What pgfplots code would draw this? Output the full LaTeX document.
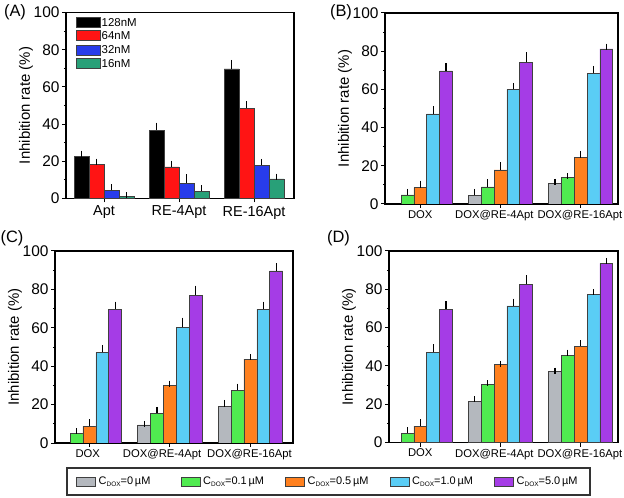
\documentclass[border=0pt]{standalone}
\usepackage{pgfplots}
\pgfplotsset{compat=1.18}
\usepackage{fontspec}
\setmainfont{Liberation Sans}
\setsansfont{Liberation Sans}

\definecolor{cgray}{RGB}{180,184,190}
\definecolor{cgreen}{RGB}{80,235,80}
\definecolor{corange}{RGB}{255,128,30}
\definecolor{ccyan}{RGB}{90,205,245}
\definecolor{cpurple}{RGB}{165,60,230}
\definecolor{ared}{RGB}{255,20,20}
\definecolor{ablue}{RGB}{40,60,235}
\definecolor{ateal}{RGB}{40,160,120}

\newcommand{\fs}[1]{\fontsize{#1}{#1}\selectfont}
\newcommand{\cdox}{C\raisebox{-0.3ex}{\fs{6.5}DOX}}

\pgfplotsset{
  panel/.style={
    scale only axis,
    anchor=south west,
    ybar=0pt,
    ymin=0, ymax=100,
    ytick={0,20,...,100},
    minor y tick num=1,
    tick align=outside,
    major tick length=4bp,
    minor tick length=2bp,
    xtick pos=bottom, ytick pos=left,
    axis line style={line width=1.3bp},
    major tick style={line width=1bp, black},
    minor tick style={line width=0.8bp, black},
    ylabel={Inhibition rate (\%)},
    yticklabel style={font=\fs{15.5}, xshift=1bp},
    ylabel style={font=\fs{15}, yshift=-6bp},
    /pgf/number format/assume math mode=true,
    error bars/y dir=plus,
    error bars/y explicit,
    error bars/error bar style={line width=1.1bp, black},
    error bars/error mark options={line width=1.1bp, black, mark size=3bp},
    every axis plot/.append style={draw=black!75, line width=0.6bp},
  },
  dox/.style={
    xtick={1,2,3},
    xticklabels={},
    extra x ticks={#1},
    extra x tick labels={DOX,DOX@RE-4Apt,DOX@RE-16Apt},
    extra x tick style={major tick length=0pt, xticklabel style={font=\fs{11.3}, yshift=-3bp}},
    bar width=0.16,
  },
}

\begin{document}
\begin{tikzpicture}
\path[use as bounding box] (0,0) rectangle (624bp,498bp);

% (A)
\begin{axis}[panel, at={(66bp,299.5bp)}, width=228bp, height=186bp,
  xmin=0.493, xmax=3.533, xtick={1,2,3},
  xticklabels={Apt,RE-4Apt,RE-16Apt},
  xticklabel style={font=\fs{14.5}},
  bar width=0.2]
\addplot[fill=black] coordinates {(1,22.5) +- (0,1.6) (2,36.8) +- (0,2.4) (3,69.7) +- (0,3.2)};
\addplot[fill=ared] coordinates {(1,18.2) +- (0,1.6) (2,17.0) +- (0,1.8) (3,48.6) +- (0,2.2)};
\addplot[fill=ablue] coordinates {(1,4.3) +- (0,1.8) (2,8.2) +- (0,3.2) (3,17.8) +- (0,1.9)};
\addplot[fill=ateal] coordinates {(1,1.1) +- (0,0.6) (2,4.0) +- (0,1.6) (3,10.5) +- (0,1.2)};
\end{axis}

% (B)
\begin{axis}[panel, dox={1,1.923,2.99}, at={(385bp,294bp)}, width=233bp, height=191bp,
  xmin=0.56, xmax=3.465]
\addplot[fill=cgray] coordinates {(2,4.5) +- (0,1.9) (3,10.6) +- (0,1.0)};
\addplot[fill=cgreen] coordinates {(1,4.8) +- (0,1.5) (2,8.9) +- (0,2.4) (3,13.9) +- (0,0.7)};
\addplot[fill=corange] coordinates {(1,8.6) +- (0,2.0) (2,17.9) +- (0,2.4) (3,24.2) +- (0,2.0)};
\addplot[fill=ccyan] coordinates {(1,47.2) +- (0,2.3) (2,60.0) +- (0,1.8) (3,68.5) +- (0,2.2)};
\addplot[fill=cpurple] coordinates {(1,69.7) +- (0,2.4) (2,74.2) +- (0,3.8) (3,81.2) +- (0,1.2)};
\end{axis}

% (C)
\begin{axis}[panel, dox={0.98,1.904,2.988}, at={(55bp,55bp)}, width=238bp, height=192bp,
  xmin=0.573, xmax=3.529]
\addplot[fill=cgray] coordinates {(2,9.4) +- (0,0.5) (3,19.0) +- (0,1.9)};
\addplot[fill=cgreen] coordinates {(1,4.8) +- (0,1.4) (2,15.4) +- (0,1.8) (3,27.5) +- (0,1.9)};
\addplot[fill=corange] coordinates {(1,8.7) +- (0,2.0) (2,29.9) +- (0,1.0) (3,43.7) +- (0,1.0)};
\addplot[fill=ccyan] coordinates {(1,47.2) +- (0,2.4) (2,60.2) +- (0,3.5) (3,69.7) +- (0,2.4)};
\addplot[fill=cpurple] coordinates {(1,69.7) +- (0,2.4) (2,77.0) +- (0,3.4) (3,89.6) +- (0,2.4)};
\end{axis}

% (D)
\begin{axis}[panel, dox={1,1.923,2.99}, at={(389bp,55.5bp)}, width=229bp, height=191.5bp,
  xmin=0.61, xmax=3.465]
\addplot[fill=cgray] coordinates {(2,21.3) +- (0,1.3) (3,37.1) +- (0,0.4)};
\addplot[fill=cgreen] coordinates {(1,4.9) +- (0,1.4) (2,30.4) +- (0,0.5) (3,45.5) +- (0,1.4)};
\addplot[fill=corange] coordinates {(1,8.6) +- (0,2.1) (2,40.6) +- (0,0.5) (3,50.3) +- (0,1.6)};
\addplot[fill=ccyan] coordinates {(1,47.2) +- (0,2.5) (2,71.3) +- (0,2.2) (3,77.5) +- (0,0.9)};
\addplot[fill=cpurple] coordinates {(1,69.7) +- (0,2.5) (2,82.6) +- (0,3.1) (3,93.6) +- (0,1.2)};
\end{axis}

% panel letters
\node[font=\fs{16.5}] at (15bp,486bp) {(A)};
\node[font=\fs{16.5}] at (341bp,485.5bp) {(B)};
\node[font=\fs{16.5}] at (12bp,260bp) {(C)};
\node[font=\fs{16.5}] at (338.5bp,260bp) {(D)};

% legend of (A)
\foreach \c/\t/\y in {black/128nM/475.2, ared/64nM/462.3, ablue/32nM/448, ateal/16nM/434.2}{
  \filldraw[fill=\c, draw=black!75, line width=0.6bp] (76.7bp,\y bp-5bp) rectangle (100bp,\y bp+5bp);
  \node[anchor=west, inner sep=0pt, font=\fs{11.5}] at (101.5bp,\y bp) {\t};
}

% common legend
\draw[line width=1.2bp, black!80] (67bp,3bp) rectangle (590bp,30bp);
\foreach \c/\t/\x in {cgray/0/76.5, cgreen/0.1/181, corange/0.5/285.5, ccyan/1.0/390, cpurple/5.0/494.5}{
  \filldraw[fill=\c, draw=black!75, line width=0.6bp] (\x bp,11.5bp) rectangle (\x bp+19bp,20.5bp);
  \node[anchor=west, inner sep=0pt, font=\fs{11}] at (\x bp+22bp,16bp) {\cdox=\t\,µM};
}
\end{tikzpicture}
\end{document}
